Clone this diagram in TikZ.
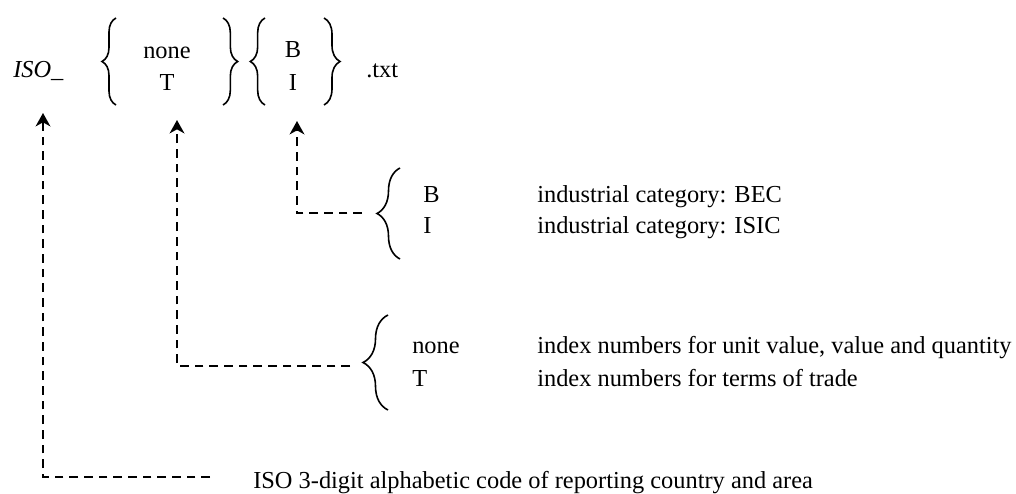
\documentclass[tikz,border=0pt]{standalone}
\usepackage{fontspec}
\setmainfont{Liberation Serif}
\usetikzlibrary{arrows.meta,decorations.pathreplacing,calc}

\begin{document}
\begin{tikzpicture}[
    x=0.75pt, y=-0.75pt,
    font=\fontsize{18.3}{24.5}\selectfont,
    txt/.style={anchor=base west, inner sep=0pt},
    mid/.style={anchor=base, inner sep=0pt},
    curly/.style={decorate, decoration={brace, amplitude=#1}, line width=1.2pt},
    link/.style={line width=1.9pt, dash pattern=on 6.5pt off 4.5pt,
        -{Stealth[length=10pt, width=11pt, inset=3pt]}}
]
\useasboundingbox (0,0) rectangle (1016,493);

% File name pattern
\node[txt] (iso) at (13,77) {\textit{ISO\_}};
\node[mid] (typNone) at (167,58) {none};
\node[mid] (typT) at (167,90) {T};
\node[mid] (sufB) at (293,57) {B};
\node[mid] (sufI) at (293,90) {I};
\node[txt] (ext) at (366,77) {.txt};

\draw[curly=10.5pt] (116,105) -- (116,18);
\draw[curly=11pt] (223,18) -- (223,105);
\draw[curly=11pt] (265,105) -- (265,18);
\draw[curly=12pt] (324,18) -- (324,105);

% Suffix: industrial category
\node[txt] (keyB) at (423,202) {B};
\node[txt] (keyI) at (423,233) {I};
\node[txt] (descB) at (537,202) {industrial category: BEC};
\node[txt] (descI) at (537,233) {industrial category: ISIC};
\draw[curly=17.25pt] (400,259) -- (400,168);
\coordinate (sufbr) at (377,213);

% Type: index numbers
\node[txt] (keyNone) at (412,353) {none};
\node[txt] (keyT) at (412,386) {T};
\node[txt] (descNone) at (537,353) {index numbers for unit value, value and quantity};
\node[txt] (descT) at (537,386) {index numbers for terms of trade};
\draw[curly=18.75pt] (388,410) -- (388,315);
\coordinate (typbr) at (363,366);

% Country code
\node[txt] (isodesc) at (253,488) {ISO 3-digit alphabetic code of reporting country and area};

% Connections
\draw[link] ($(sufbr)+(-15,0)$) -| ($(sufI.base)+(4,31)$);
\draw[link] ($(typbr)+(-13,0)$) -| ($(typT.base)+(10,30)$);
\draw[link] ($(isodesc.base west)+(-43,-11)$) -| ($(iso.base west)+(30,36)$);

\end{tikzpicture}
\end{document}
